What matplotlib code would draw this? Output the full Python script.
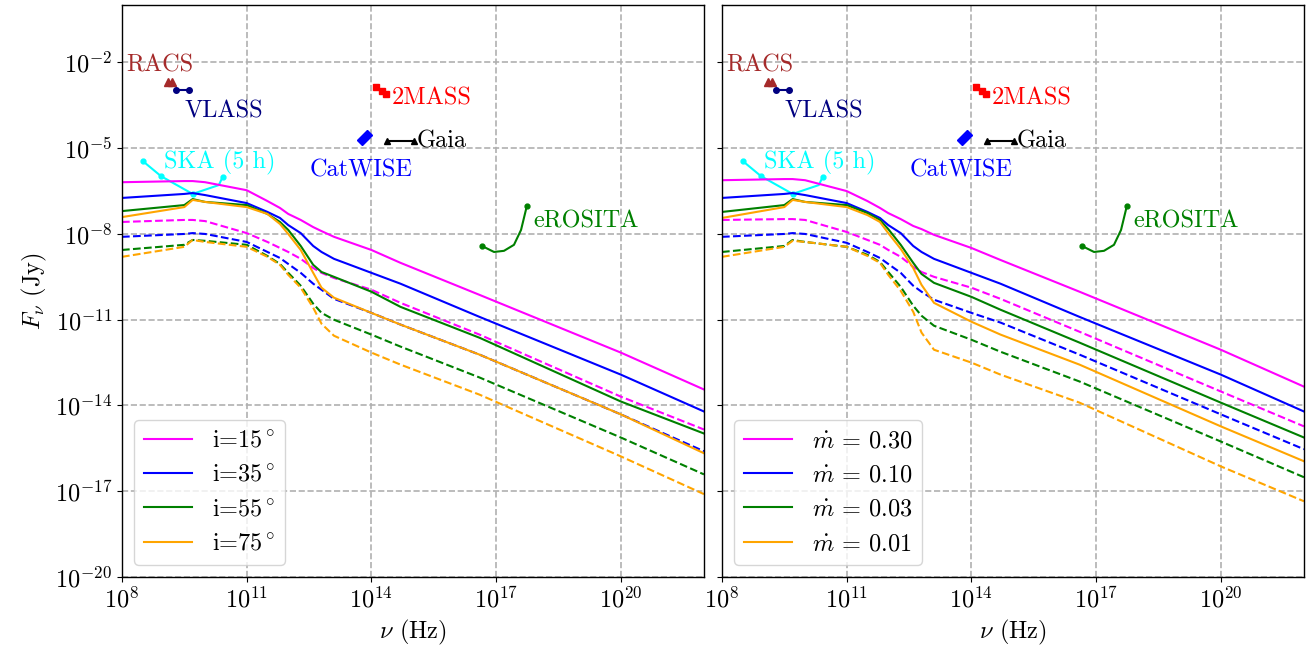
import matplotlib
matplotlib.use("Agg")
import matplotlib.pyplot as plt
import numpy as np
from matplotlib.ticker import FixedLocator, NullLocator

plt.rcParams["font.family"] = "serif"
plt.rcParams["font.serif"] = ["cmr10"]
plt.rcParams["mathtext.fontset"] = "cm"
plt.rcParams["axes.unicode_minus"] = False
plt.rcParams["axes.formatter.use_mathtext"] = True
FS = 17.5

# common frequency grid, log10(nu / Hz)
log_nu = [8.0, 9.5, 9.7, 10.0, 11.0, 11.5, 11.8, 12.0, 12.3, 12.6, 12.8, 13.1,
          14.0, 14.7, 16.6, 20.0, 22.0]

# left panel: inclination, log10(F / Jy)
i15_solid = [-6.19, -6.15, -6.15, -6.19, -6.47, -6.85, -7.09, -7.30, -7.51, -7.76, -7.90, -8.10,
             -8.56, -9.01, -10.13, -12.15, -13.44]
i35_solid = [-6.74, -6.60, -6.57, -6.64, -6.92, -7.23, -7.44, -7.69, -7.97, -8.42, -8.63, -8.87,
             -9.36, -9.74, -10.90, -12.92, -14.21]
i55_solid = [-7.20, -6.99, -6.78, -6.88, -6.99, -7.30, -7.58, -7.86, -8.42, -9.08, -9.33, -9.50,
             -10.02, -10.55, -11.63, -13.86, -14.98]
i75_solid = [-7.41, -7.06, -6.81, -6.88, -7.06, -7.30, -7.65, -8.00, -8.56, -9.36, -9.88, -10.23,
             -10.76, -11.17, -12.22, -14.31, -15.67]
i15_dashed = [-7.58, -7.51, -7.51, -7.55, -7.97, -8.28, -8.49, -8.63, -8.87, -9.19, -9.36, -9.54,
              -9.95, -10.41, -11.52, -13.69, -14.84]
i35_dashed = [-8.10, -8.00, -7.97, -8.00, -8.28, -8.63, -8.84, -9.05, -9.36, -9.74, -9.95, -10.27,
              -10.76, -11.17, -12.22, -14.31, -15.60]
i55_dashed = [-8.56, -8.38, -8.21, -8.24, -8.38, -8.77, -9.05, -9.36, -9.81, -10.44, -10.76, -11.00,
              -11.52, -11.94, -13.02, -15.12, -16.41]
i75_dashed = [-8.80, -8.45, -8.21, -8.28, -8.45, -8.80, -9.08, -9.43, -9.88, -10.58, -11.14, -11.56,
              -12.15, -12.57, -13.62, -15.78, -17.10]

# right panel: accretion rate
m30_solid = [-6.12, -6.08, -6.08, -6.12, -6.50, -6.85, -7.09, -7.27, -7.48, -7.72, -7.83, -8.03,
             -8.49, -8.91, -10.02, -12.05, -13.34]
m10_solid = [-6.74, -6.60, -6.57, -6.64, -6.92, -7.23, -7.44, -7.69, -7.97, -8.42, -8.63, -8.87,
             -9.36, -9.74, -10.90, -12.92, -14.21]
m03_solid = [-7.23, -6.99, -6.78, -6.88, -6.99, -7.27, -7.51, -7.83, -8.38, -9.01, -9.40, -9.71,
             -10.20, -10.65, -11.80, -13.90, -15.12]
m01_solid = [-7.44, -7.06, -6.81, -6.88, -7.06, -7.34, -7.58, -7.97, -8.52, -9.19, -9.78, -10.41,
             -11.07, -11.52, -12.57, -14.73, -15.95]
m30_dashed = [-7.51, -7.48, -7.48, -7.51, -7.93, -8.21, -8.38, -8.56, -8.80, -9.15, -9.33, -9.50,
              -9.88, -10.27, -11.42, -13.51, -14.73]
m10_dashed = [-8.10, -8.00, -7.97, -8.00, -8.31, -8.63, -8.84, -9.05, -9.36, -9.81, -10.02, -10.30,
              -10.76, -11.10, -12.22, -14.31, -15.53]
m03_dashed = [-8.63, -8.42, -8.21, -8.28, -8.45, -8.73, -8.98, -9.33, -9.85, -10.51, -10.86, -11.21,
              -11.70, -12.12, -13.16, -15.26, -16.51]
m01_dashed = [-8.80, -8.45, -8.24, -8.28, -8.45, -8.77, -9.01, -9.43, -9.99, -10.72, -11.45, -12.05,
              -12.50, -12.92, -13.90, -16.13, -17.35]

colors = ["magenta", "blue", "green", "orange"]
inc_labels = [r"i=15$^\circ$", r"i=35$^\circ$", r"i=55$^\circ$", r"i=75$^\circ$"]
mdot_labels = [r"$\dot{m}$ = 0.30", r"$\dot{m}$ = 0.10", r"$\dot{m}$ = 0.03", r"$\dot{m}$ = 0.01"]

# survey sensitivities, log10 values
racs_nu, racs_f = [9.10, 9.20], [-2.70, -2.70]
vlass_nu, vlass_f = [9.30, 9.61], [-2.98, -2.98]
ska_nu = [8.50, 8.94, 9.70, 10.33, 10.42]
ska_f = [-5.45, -5.98, -6.60, -6.29, -6.01]
tmass_nu, tmass_f = [14.12, 14.26, 14.36], [-2.87, -3.01, -3.12]
catwise_nu, catwise_f = [13.78, 13.90], [-4.72, -4.55]
gaia_nu, gaia_f = [14.38, 15.03], [-4.76, -4.76]
erosita_nu = [16.66, 16.95, 17.19, 17.43, 17.60, 17.74]
erosita_f = [-8.42, -8.63, -8.59, -8.38, -7.86, -7.02]

# label anchors (left, baseline), log10 values
survey_labels = [
    ("RACS", 8.10, -2.31, "brown"),
    ("VLASS", 9.51, -3.92, "navy"),
    ("SKA (5 h)", 9.01, -5.70, "cyan"),
    ("2MASS", 14.50, -3.47, "red"),
    ("Gaia", 15.10, -4.97, "black"),
    ("CatWISE", 12.51, -5.98, "blue"),
    ("eROSITA", 17.89, -7.76, "green"),
]


def p(v):
    return 10.0 ** np.asarray(v)


def draw_surveys(ax):
    ax.plot(p(racs_nu), p(racs_f), "^-", color="brown", ms=6, lw=1.2)
    ax.plot(p(vlass_nu), p(vlass_f), "o-", color="navy", ms=4, lw=1.5)
    ax.plot(p(ska_nu), p(ska_f), "o-", color="cyan", ms=3.5, lw=1.5, markevery=[0, 1, 2, 4])
    ax.plot(p(tmass_nu), p(tmass_f), "s-", color="red", ms=5, lw=1.5)
    ax.plot(p(catwise_nu), p(catwise_f), "D-", color="blue", ms=5, lw=1.5)
    ax.plot(p(gaia_nu), p(gaia_f), "^-", color="black", ms=4, lw=1.5)
    ax.plot(p(erosita_nu), p(erosita_f), "o-", color="green", ms=3.5, lw=1.5, markevery=[0, 5])
    for txt, x, y, c in survey_labels:
        ax.text(p(x), p(y), txt, color=c, fontsize=FS, ha="left", va="baseline")


fig, axes = plt.subplots(1, 2, figsize=(13.13, 6.56), dpi=100, sharey=True)
fig.subplots_adjust(left=0.0929, right=0.9931, bottom=0.1204, top=0.992, wspace=0.031)

panels = [
    (axes[0], [i15_solid, i35_solid, i55_solid, i75_solid],
     [i15_dashed, i35_dashed, i55_dashed, i75_dashed], inc_labels),
    (axes[1], [m30_solid, m10_solid, m03_solid, m01_solid],
     [m30_dashed, m10_dashed, m03_dashed, m01_dashed], mdot_labels),
]

nu = p(log_nu)
for ax, solids, dashes, labels in panels:
    draw_surveys(ax)
    for s, d, c, lab in zip(solids, dashes, colors, labels):
        ax.plot(nu, p(s), "-", color=c, lw=1.5, label=lab)
        ax.plot(nu, p(d), "--", color=c, lw=1.5)
    ax.set_xscale("log")
    ax.set_yscale("log")
    ax.set_xlim(1e8, 1e22)
    ax.set_ylim(1e-20, 1e0)
    ax.xaxis.set_major_locator(FixedLocator([1e8, 1e11, 1e14, 1e17, 1e20]))
    ax.yaxis.set_major_locator(FixedLocator([1e-20, 1e-17, 1e-14, 1e-11, 1e-8, 1e-5, 1e-2]))
    ax.xaxis.set_minor_locator(NullLocator())
    ax.yaxis.set_minor_locator(NullLocator())
    ax.grid(True, ls="--", color="#b0b0b0", lw=1.2)
    ax.tick_params(labelsize=FS)
    ax.set_xlabel(r"$\nu$ (Hz)", fontsize=FS)
    ax.legend(loc="lower left", fontsize=FS)
    for sp in ax.spines.values():
        sp.set_linewidth(1.0)

axes[0].set_ylabel(r"$F_\nu$ (Jy)", fontsize=FS)

fig.savefig("out.png", dpi=100)
